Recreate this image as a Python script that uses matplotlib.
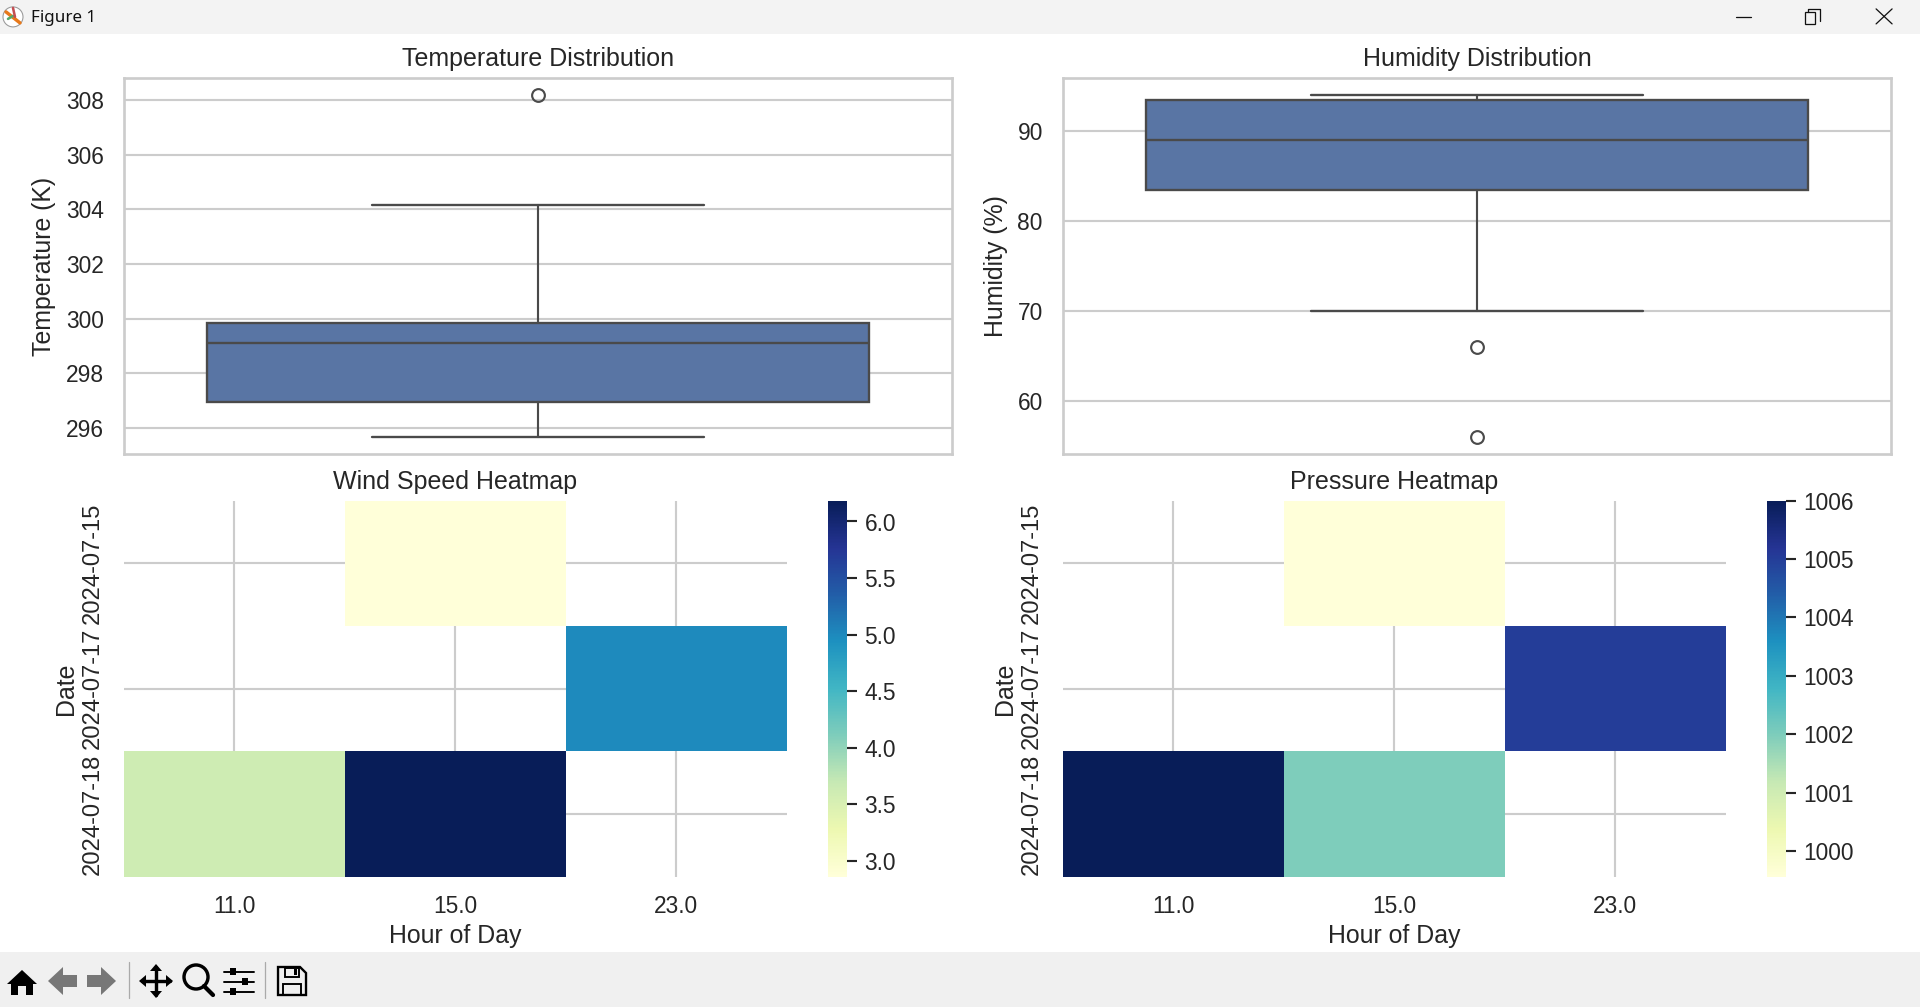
import matplotlib
matplotlib.use('Agg')
import matplotlib.pyplot as plt
from matplotlib.patches import Rectangle, Polygon, Circle
import numpy as np
import seaborn as sns

W, H, DPI = 1920, 1007, 153

# box stats
temp_whislo, temp_q1, temp_med, temp_q3, temp_whishi = 295.67, 296.94, 299.12, 299.85, 304.14
temp_fliers = [308.18]
hum_whislo, hum_q1, hum_med, hum_q3, hum_whishi = 70.0, 83.4, 89.0, 93.45, 94.0
hum_fliers = [66.0, 56.0]

# heatmaps
hours = ['11.0', '15.0', '23.0']
dates = ['2024-07-15', '2024-07-17', '2024-07-18']
wind = [[np.nan, 2.86, np.nan],
        [np.nan, np.nan, 5.0],
        [3.62, 6.185, np.nan]]
pressure = [[np.nan, 999.56, np.nan],
            [np.nan, np.nan, 1005.0],
            [1006.0, 1002.0, np.nan]]

sns.set_theme(style='whitegrid')
plt.rcParams['font.family'] = ['Liberation Sans', 'DejaVu Sans']
plt.rcParams['axes.titlesize'] = 11.75
plt.rcParams['axes.labelsize'] = 11.7
plt.rcParams['xtick.labelsize'] = 10.7
plt.rcParams['ytick.labelsize'] = 10.7

fig = plt.figure(figsize=((W + 0.1) / DPI, (H + 0.1) / DPI), dpi=DPI)


def px_axes(x0, y0, x1, y1, **kw):
    # pixel box, y measured from the top of the window
    return fig.add_axes([x0 / W, 1 - y1 / H, (x1 - x0) / W, (y1 - y0) / H], **kw)


def box(ax, whislo, q1, med, q3, whishi, fliers, title, ylabel):
    stats = [dict(whislo=whislo, q1=q1, med=med, q3=q3, whishi=whishi, fliers=fliers)]
    line = '#4a4a4a'
    ax.bxp(stats, positions=[0], widths=0.8, patch_artist=True, capwidths=0.4,
           boxprops=dict(facecolor='#5975a4', edgecolor=line, linewidth=1.1),
           medianprops=dict(color=line, linewidth=1.1),
           whiskerprops=dict(color=line, linewidth=1.0),
           capprops=dict(color=line, linewidth=1.1),
           flierprops=dict(marker='o', markerfacecolor='none', markeredgecolor=line,
                           markersize=6, markeredgewidth=1.0))
    ax.set_xlim(-0.5, 0.5)
    ax.set_xticks([])
    ax.set_title(title, pad=5.6)
    ax.set_ylabel(ylabel, labelpad=4.4)
    ax.set_axisbelow(True)


def heat(ax, cax, values, title):
    sns.heatmap(np.array(values), ax=ax, cbar_ax=cax, cmap='YlGnBu',
                xticklabels=hours, yticklabels=dates)
    ax.set_title(title, pad=5.6)
    ax.set_xlabel('Hour of Day', labelpad=2.8)
    ax.set_ylabel('Date', labelpad=1.6)
    ax.tick_params(axis='x', pad=2.7)
    ax.tick_params(axis='y', labelrotation=90, labelsize=11.2)
    for t in ax.get_yticklabels():
        t.set_va('center')
    cax.tick_params(axis='y', right=True, length=4.7, width=1, color='.15', labelsize=10.7)


ax1 = px_axes(124, 78, 952, 454)
ax2 = px_axes(1063, 78, 1891, 454)
box(ax1, temp_whislo, temp_q1, temp_med, temp_q3, temp_whishi, temp_fliers,
    'Temperature Distribution', 'Temperature (K)')
box(ax2, hum_whislo, hum_q1, hum_med, hum_q3, hum_whishi, hum_fliers,
    'Humidity Distribution', 'Humidity (%)')

ax3 = px_axes(124, 500.6, 786.6, 876.6)
cax3 = px_axes(828, 500.6, 847, 876.6)
ax4 = px_axes(1063, 500.6, 1725.6, 876.6)
cax4 = px_axes(1767, 500.6, 1786, 876.6)
heat(ax3, cax3, wind, 'Wind Speed Heatmap')
heat(ax4, cax4, pressure, 'Pressure Heatmap')

# window chrome, drawn in pixel coordinates behind the charts
ui = fig.add_axes([0, 0, 1, 1], zorder=-1)
ui.set_xlim(0, W)
ui.set_ylim(H, 0)
ui.axis('off')
ui.add_patch(Rectangle((0, 0), W, 34, fc='#f3f3f3', ec='none'))
ui.add_patch(Rectangle((0, 952), W, 55, fc='#f0f0f0', ec='none'))
ui.text(31, 18, 'Figure 1', family='Noto Sans', fontsize=8, va='center', color='#111111')
ui.add_patch(Circle((13, 17), 10, fc='white', ec='#999999', lw=0.5))
ui.plot([6, 20], [12, 23], color='#e8791a', lw=1.6)
ui.plot([8, 13], [19, 16], color='#55a868', lw=1.2)
ui.plot([13, 15], [8, 17], color='#c44e52', lw=1.2)
ui.plot([1736, 1751], [17, 17], color='#111111', lw=0.6)
ui.add_patch(Rectangle((1805, 12), 10, 12, fc='none', ec='#111111', lw=0.6))
ui.plot([1808, 1808, 1820, 1820], [12, 9, 9, 21], color='#111111', lw=0.6)
ui.plot([1876, 1892], [9, 24], color='#111111', lw=0.6)
ui.plot([1876, 1892], [24, 9], color='#111111', lw=0.6)

ui.add_patch(Polygon([(7, 984), (22, 970), (37, 984), (33, 984), (33, 995), (26, 995),
                      (26, 986), (18, 986), (18, 995), (11, 995), (11, 984)], fc='black', ec='none'))
ui.add_patch(Polygon([(48, 981), (63, 967), (63, 975), (77, 975), (77, 987), (63, 987), (63, 995)],
                     fc='#777777', ec='none'))
ui.add_patch(Polygon([(116, 981), (101, 967), (101, 975), (87, 975), (87, 987), (101, 987), (101, 995)],
                     fc='#777777', ec='none'))
ui.plot([128.5, 128.5], [962, 998], color='#aaaaaa', lw=0.6)
ui.plot([265, 265], [962, 998], color='#aaaaaa', lw=0.6)
ui.plot([142, 170], [981, 981], color='black', lw=1.6)
ui.plot([156, 156], [967, 995], color='black', lw=1.6)
for tip, a, b in [((139, 981), (146, 975), (146, 987)), ((173, 981), (166, 975), (166, 987)),
                  ((156, 964), (150, 971), (162, 971)), ((156, 998), (150, 991), (162, 991))]:
    ui.add_patch(Polygon([tip, a, b], fc='black', ec='none'))
ui.add_patch(Circle((196, 977), 12, fc='none', ec='black', lw=1.6))
ui.plot([204, 213], [986, 995], color='black', lw=2.0)
for y, x in [(972, 233), (982, 245), (992, 233)]:
    ui.plot([224, 254], [y, y], color='black', lw=0.9)
    ui.add_patch(Rectangle((x - 3, y - 3.5), 6, 7, fc='black', ec='none'))
ui.add_patch(Polygon([(278, 967), (300, 967), (306, 973), (306, 995), (278, 995)],
                     fc='none', ec='black', lw=1.1))
ui.add_patch(Rectangle((285, 968), 14, 9, fc='none', ec='black', lw=0.9))
ui.add_patch(Rectangle((294, 969), 3, 6, fc='black', ec='none'))
ui.add_patch(Rectangle((283, 984), 18, 11, fc='none', ec='black', lw=0.9))

fig.savefig('out.png', dpi=DPI)
